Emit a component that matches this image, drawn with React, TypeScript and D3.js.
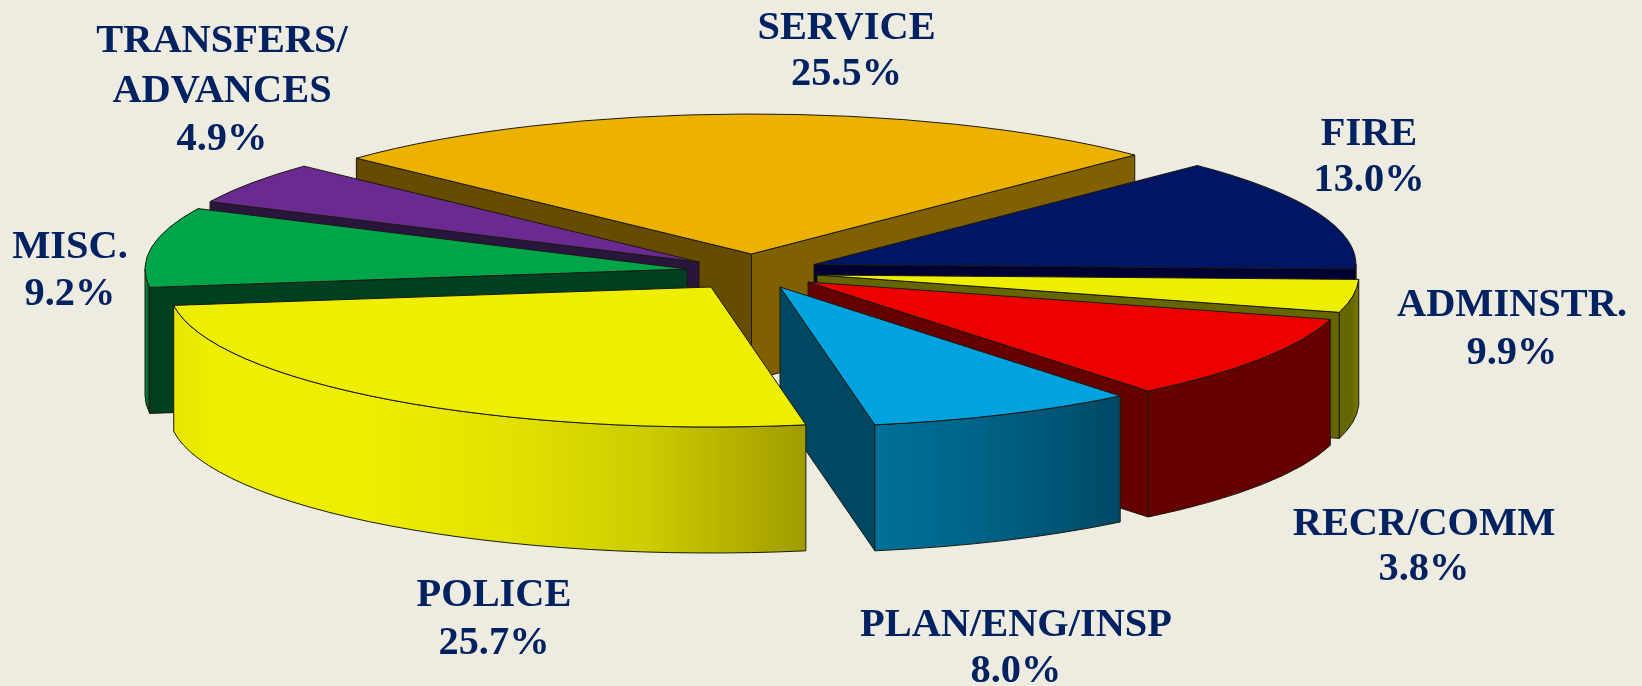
import React from "react";
import * as d3 from "d3";

// Data, in clockwise drawing order starting at SERVICE
const categories = ["SERVICE", "FIRE", "RECR/COMM", "ADMINSTR.", "PLAN/ENG/INSP", "POLICE", "MISC.", "TRANSFERS/ADVANCES"];
const shares = [25.5, 13.0, 3.8, 9.9, 8.0, 25.7, 9.2, 4.9];

// Layout
const W = 1642, H = 686;
const RX = 542, RY = 140, DEPTH = 126;
const START_DEG = 313.2; // d3.pie angle, 0 = 12 o'clock
const apexX = [751.5, 814, 817, 808, 780, 711, 687, 699];
const apexY = [254, 264.5, 275, 282, 287, 287, 269, 262];
const drawOrder = [0, 7, 6, 1, 2, 3, 4, 5];

// Style
const topFill = ["#edb200", "#001965", "#eeee00", "#ec0000", "#00a3e0", "#eeee00", "#00a44a", "#6a2c91"];
const sideStart = ["#664c00", "#000033", "#666600", "#660000", "#004662", "#666600", "#004020", "#2c123c"];
const sideEnd = ["#806000", "#000033", "#666600", "#660000", "#004662", "#666600", "#004020", "#2c123c"];
const wallStops: [number, string][][] = [
  [[0, "#806000"], [1, "#806000"]],
  [[0, "#000033"], [1, "#000033"]],
  [[0, "#666600"], [0.6, "#666600"], [1, "#777700"]],
  [[0, "#660000"], [1, "#660000"]],
  [[0, "#007099"], [0.4, "#006488"], [1, "#004a66"]],
  [[0, "#e4e400"], [0.06, "#eeee00"], [0.3, "#eeee00"], [0.55, "#e0e000"], [0.75, "#cccc00"], [1, "#a09b00"]],
  [[0, "#00983f"], [0.9, "#004020"], [1, "#004020"]],
  [[0, "#2c123c"], [1, "#2c123c"]],
];

const TEXT = "#002060";
const labelLines = [
  { cat: "SERVICE", lines: ["SERVICE", "25.5%"], x: 846.5, y: [39, 85] },
  { cat: "FIRE", lines: ["FIRE", "13.0%"], x: 1369, y: [145, 191] },
  { cat: "ADMINSTR.", lines: ["ADMINSTR.", "9.9%"], x: 1512, y: [316, 364] },
  { cat: "RECR/COMM", lines: ["RECR/COMM", "3.8%"], x: 1424, y: [535, 580] },
  { cat: "PLAN/ENG/INSP", lines: ["PLAN/ENG/INSP", "8.0%"], x: 1016, y: [636, 682] },
  { cat: "POLICE", lines: ["POLICE", "25.7%"], x: 494, y: [606, 654] },
  { cat: "MISC.", lines: ["MISC.", "9.2%"], x: 70, y: [258, 305] },
  { cat: "TRANSFERS/ADVANCES", lines: ["TRANSFERS/", "ADVANCES", "4.9%"], x: 222, y: [52, 102, 150] },
];

const rad = (d: number) => (d * Math.PI) / 180;

export default function App() {
  const pie = d3
    .pie<number>()
    .sort(null)
    .startAngle(rad(START_DEG))
    .endAngle(rad(START_DEG + 360));
  const arcs = pie(shares);

  const pt = (i: number, t: number, dy = 0): [number, number] => [
    apexX[i] + RX * Math.cos(t),
    apexY[i] + RY * Math.sin(t) + dy,
  ];

  const defs: React.ReactNode[] = [];
  const shapes: React.ReactNode[] = [];

  drawOrder.forEach((i) => {
    const t0 = arcs[i].startAngle - Math.PI / 2;
    const t1 = arcs[i].endAngle - Math.PI / 2;
    const stroke = { stroke: "#1a1a10", strokeWidth: 1, strokeLinejoin: "round" as const };
    const ax = apexX[i], ay = apexY[i];

    // radial side faces
    const faces: [number, string][] = [];
    if (Math.cos(t0) < 0) faces.push([t0, sideStart[i]]);
    if (Math.cos(t1) > 0) faces.push([t1, sideEnd[i]]);
    faces.forEach(([t, c], k) => {
      const p = pt(i, t);
      const q = pt(i, t, DEPTH);
      shapes.push(
        <path key={`f${i}${k}`} d={`M${ax},${ay}L${p[0]},${p[1]}L${q[0]},${q[1]}L${ax},${ay + DEPTH}Z`} fill={c} {...stroke} />
      );
    });

    // outer wall: only the parts of the rim that face the viewer
    [0, 2 * Math.PI].forEach((base, k) => {
      const a = Math.max(t0, base);
      const b = Math.min(t1, base + Math.PI);
      if (b <= a) return;
      const p0 = pt(i, a), p1 = pt(i, b), q1 = pt(i, b, DEPTH), q0 = pt(i, a, DEPTH);
      const id = `wall${i}${k}`;
      defs.push(
        <linearGradient key={id} id={id} gradientUnits="userSpaceOnUse" x1={Math.min(p0[0], p1[0])} x2={Math.max(p0[0], p1[0])} y1={0} y2={0}>
          {wallStops[i].map(([o, c], j) => (
            <stop key={j} offset={o} stopColor={c} />
          ))}
        </linearGradient>
      );
      shapes.push(
        <path
          key={id}
          d={`M${p0[0]},${p0[1]}A${RX},${RY} 0 0 1 ${p1[0]},${p1[1]}L${q1[0]},${q1[1]}A${RX},${RY} 0 0 0 ${q0[0]},${q0[1]}Z`}
          fill={`url(#${id})`}
          {...stroke}
        />
      );
    });

    // top face
    const s = pt(i, t0), e = pt(i, t1);
    const large = t1 - t0 > Math.PI ? 1 : 0;
    shapes.push(
      <path
        key={`t${i}`}
        d={`M${ax},${ay}L${s[0]},${s[1]}A${RX},${RY} 0 ${large} 1 ${e[0]},${e[1]}Z`}
        fill={topFill[i]}
        {...stroke}
      />
    );
  });

  return (
    <svg
      width={W}
      height={H}
      viewBox={`0 0 ${W} ${H}`}
      style={{ position: "absolute", left: 0, top: 0, background: "#eeebe0", display: "block" }}
    >
      <defs>
        {defs}
        <filter id="soft" x="-2%" y="-2%" width="104%" height="104%">
          <feGaussianBlur stdDeviation="0.55" />
        </filter>
      </defs>
      <rect width={W} height={H} fill="#eeebe0" />
      <g filter="url(#soft)">
        {shapes}
        {labelLines.map((l) => (
          <text
            key={l.cat}
            textAnchor="middle"
            fontFamily="'Liberation Serif', serif"
            fontWeight="bold"
            fontSize={40.4}
            fill={TEXT}
          >
            {l.lines.map((t, j) => (
              <tspan key={j} x={l.x} y={l.y[j]}>
                {t}
              </tspan>
            ))}
          </text>
        ))}
      </g>
    </svg>
  );
}
